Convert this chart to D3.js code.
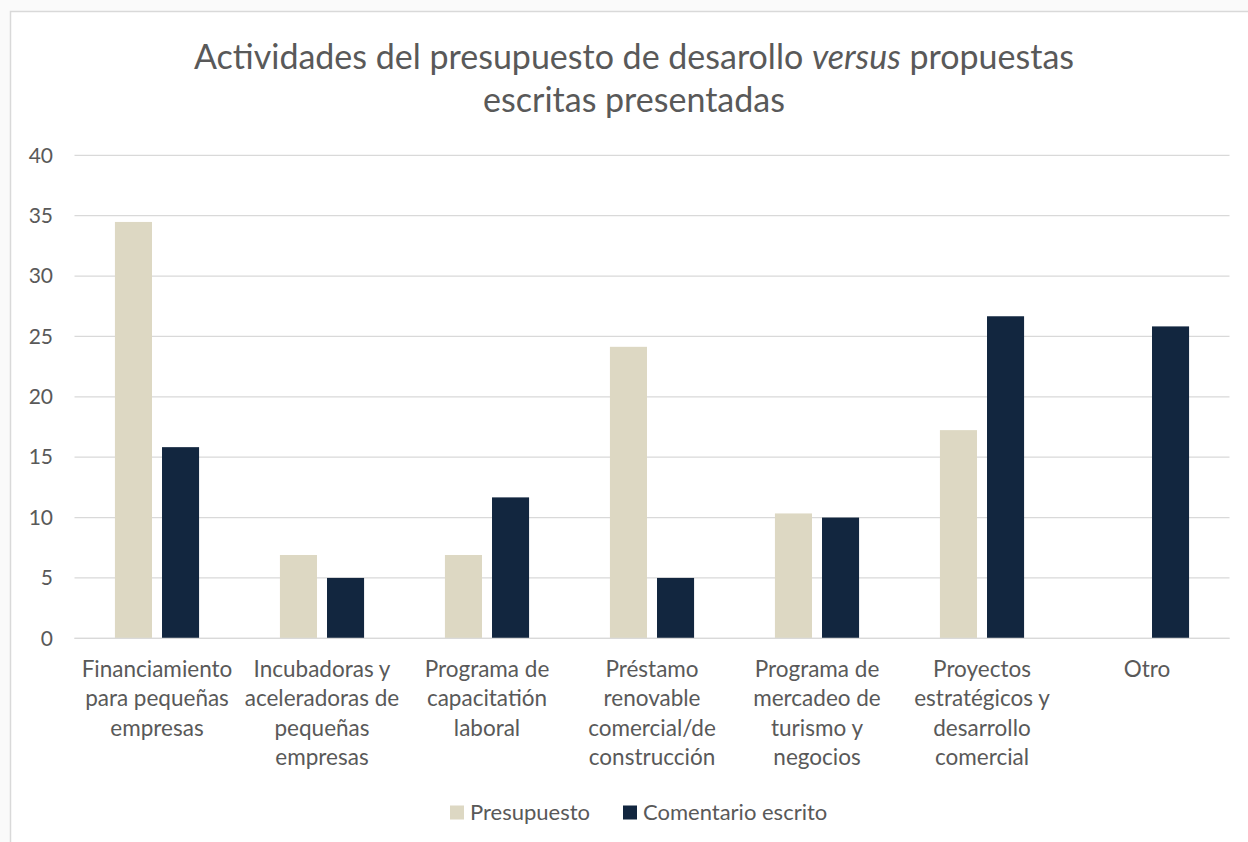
<!DOCTYPE html>
<html>
<head>
<meta charset="utf-8">
<script src="https://cdn.jsdelivr.net/npm/d3@7"></script>
<style>
  html, body { margin: 0; padding: 0; background: #fafafa; }
  svg { display: block; }
  text { font-family: Lato, "Open Sans", sans-serif; fill: #595959; }
</style>
</head>
<body>
<svg id="chart" width="1248" height="842"></svg>
<script>
// Activity categories (line breaks as shown under the axis)
const categories = [
  "Financiamiento\npara pequeñas\nempresas",
  "Incubadoras y\naceleradoras de\npequeñas\nempresas",
  "Programa de\ncapacitatión\nlaboral",
  "Préstamo\nrenovable\ncomercial/de\nconstrucción",
  "Programa de\nmercadeo de\nturismo y\nnegocios",
  "Proyectos\nestratégicos y\ndesarrollo\ncomercial",
  "Otro"
];
const seriesNames = ["Presupuesto", "Comentario escrito"];
const presupuesto = [34.48, 6.9, 6.9, 24.14, 10.34, 17.24, 0];
const comentario = [15.83, 5.0, 11.67, 5.0, 10.0, 26.67, 25.83];
const yTicks = [0, 5, 10, 15, 20, 25, 30, 35, 40];
const colors = ["#ddd8c3", "#12263f"];

const svg = d3.select("#chart");

// chart frame
svg.append("rect")
  .attr("x", 10.5).attr("y", 11.5)
  .attr("width", 1260).attr("height", 860)
  .attr("fill", "#ffffff")
  .attr("stroke", "#d9d9d9").attr("stroke-width", 1.5);

// title
const title = svg.append("text")
  .attr("text-anchor", "middle")
  .style("font-size", "34px");
const l1 = title.append("tspan").attr("x", 634).attr("y", 69);
l1.append("tspan").text("Actividades del presupuesto de desarollo ");
l1.append("tspan").style("font-style", "italic").text("versus");
l1.append("tspan").text(" propuestas");
title.append("tspan").attr("x", 634).attr("y", 112).text("escritas presentadas");

// scales
const x0 = d3.scaleBand()
  .domain(categories)
  .range([74.5, 1229.5])
  .paddingInner(0.49)
  .paddingOuter(0.245);

const x1 = d3.scaleBand()
  .domain(seriesNames)
  .range([0, x0.bandwidth()])
  .paddingInner(0.2128);

const y = d3.scaleLinear().domain([0, 40]).range([638.3, 155.3]);

// gridlines
const xFull = [x0.range()[0], x0.range()[1]];
svg.append("g").selectAll("line")
  .data(yTicks)
  .join("line")
  .attr("x1", xFull[0]).attr("x2", xFull[1])
  .attr("y1", d => y(d)).attr("y2", d => y(d))
  .attr("stroke", "#d9d9d9").attr("stroke-width", 1.3);

// y axis labels
const yAxis = d3.axisLeft(y).tickValues(yTicks).tickSize(0).tickPadding(0);
const yg = svg.append("g").attr("transform", "translate(53,0)").call(yAxis);
yg.select(".domain").remove();
yg.selectAll("text")
  .style("font-size", "21px")
  .style("font-family", "Lato, 'Open Sans', sans-serif")
  .attr("fill", "#595959");

// bars
const rows = categories.map((c, i) => ({ cat: c, vals: [presupuesto[i], comentario[i]] }));
const groups = svg.append("g").selectAll("g")
  .data(rows)
  .join("g")
  .attr("transform", d => `translate(${x0(d.cat)},0)`);

groups.selectAll("rect")
  .data(d => d.vals.map((v, k) => ({ key: seriesNames[k], v, k })))
  .join("rect")
  .attr("x", d => x1(d.key))
  .attr("width", x1.bandwidth())
  .attr("y", d => y(d.v))
  .attr("height", d => y(0) - y(d.v))
  .attr("fill", d => colors[d.k]);

// baseline redraw over bar bottoms
svg.append("line")
  .attr("x1", xFull[0]).attr("x2", xFull[1])
  .attr("y1", y(0)).attr("y2", y(0))
  .attr("stroke", "#d9d9d9").attr("stroke-width", 1.3);

// category labels
const xAxis = d3.axisBottom(x0).tickSize(0).tickFormat("");
const xg = svg.append("g").attr("transform", `translate(0,${y(0)})`).call(xAxis);
xg.select(".domain").remove();
xg.selectAll(".tick").each(function(d) {
  const t = d3.select(this).append("text")
    .attr("text-anchor", "middle")
    .style("font-size", "22.5px")
    .attr("fill", "#595959");
  d.split("\n").forEach((line, i) => {
    t.append("tspan").attr("x", 0).attr("y", 38.5 + i * 29.5).text(line);
  });
});

// legend
const legend = svg.append("g");
const legendItems = [
  { name: seriesNames[0], color: colors[0], x: 450 },
  { name: seriesNames[1], color: colors[1], x: 623 }
];
legendItems.forEach(it => {
  legend.append("rect")
    .attr("x", it.x).attr("y", 805.5)
    .attr("width", 14).attr("height", 14)
    .attr("fill", it.color);
  legend.append("text")
    .attr("x", it.x + 20).attr("y", 820)
    .style("font-size", "22px")
    .text(it.name);
});
</script>
</body>
</html>
